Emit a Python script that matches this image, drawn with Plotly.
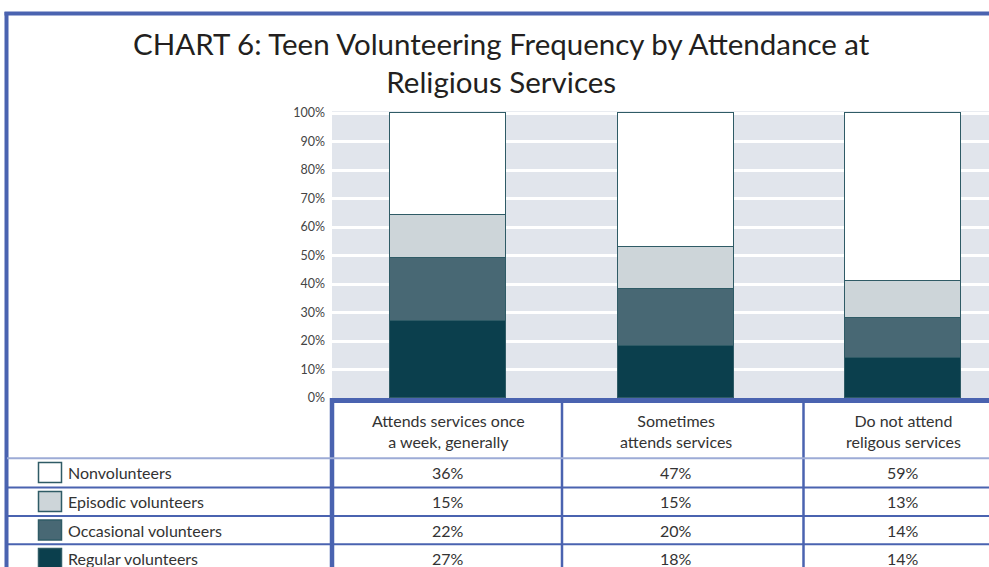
import plotly.graph_objects as go

# ---------------- data ----------------
categories = ["Attends services once<br>a week, generally",
              "Sometimes<br>attends services",
              "Do not attend<br>religous services"]
series_names = ["Regular volunteers", "Occasional volunteers",
                "Episodic volunteers", "Nonvolunteers"]
regular = [27, 18, 14]
occasional = [22, 20, 14]
episodic = [15, 15, 13]
nonvolunteers = [36, 47, 59]
series_values = [regular, occasional, episodic, nonvolunteers]
series_colors = ["#0b3f4d", "#486874", "#cdd5d9", "#ffffff"]
y_ticks = [0, 10, 20, 30, 40, 50, 60, 70, 80, 90, 100]
y_tick_labels = [f"{v}%" for v in y_ticks]
title_text = "CHART 6: Teen Volunteering Frequency by Attendance at<br>Religious Services"

# ---------------- layout helpers ----------------
W, H = 989, 567
BLUE = "#4a63b0"
LIGHTBLUE = "#9dabd6"
OUTLINE = "#2f5b66"
FONT = "Lato"
Y_TOP = 100.6          # small headroom so the top bar outline is not clipped
PX_PER_UNIT = (398 - 113) / 100


def px(x):
    return x / W


def py(y):
    return 1 - y / H


fig = go.Figure()
for name, vals, col in zip(series_names, series_values, series_colors):
    fig.add_trace(go.Bar(
        x=categories, y=vals, name=name,
        marker=dict(color=col, line=dict(color=OUTLINE, width=1.3)),
        width=0.51, showlegend=False, hoverinfo="name+y"))

shapes = []
annotations = []

# outer border (top + left)
shapes.append(dict(type="line", xref="paper", yref="paper",
                   x0=px(4.5), x1=1, y0=py(13.5), y1=py(13.5),
                   line=dict(color=BLUE, width=4)))
shapes.append(dict(type="line", xref="paper", yref="paper",
                   x0=px(6.5), x1=px(6.5), y0=py(12), y1=0,
                   line=dict(color=BLUE, width=4)))
# y axis line continued through table
shapes.append(dict(type="line", xref="paper", yref="paper",
                   x0=px(332), x1=px(332), y0=py(398), y1=0,
                   line=dict(color=BLUE, width=4.5)))
# column dividers in table
for xx in [562, 803.5]:
    shapes.append(dict(type="line", xref="paper", yref="paper",
                       x0=px(xx), x1=px(xx), y0=py(401), y1=0,
                       line=dict(color=BLUE, width=2.5)))
# header bottom line
shapes.append(dict(type="line", xref="paper", yref="paper",
                   x0=px(7), x1=1, y0=py(458.3), y1=py(458.3),
                   line=dict(color=LIGHTBLUE, width=2)))
# row lines
for yy in [487.5, 516, 544.3]:
    shapes.append(dict(type="line", xref="paper", yref="paper",
                       x0=px(7), x1=1, y0=py(yy), y1=py(yy),
                       line=dict(color=BLUE, width=2)))

# header texts
for c in categories:
    annotations.append(dict(x=c, xref="x", y=py(431), yref="paper",
                            text=c, showarrow=False, xanchor="center",
                            yanchor="middle",
                            font=dict(family=FONT, size=16, color="#333333")))

# table rows (top to bottom: reverse of stacking order)
row_centers = [472.5, 501.5, 530, 558.5]
order = list(range(len(series_names)))[::-1]
for rc, si in zip(row_centers, order):
    # swatch
    shapes.append(dict(type="rect", xref="paper", yref="paper",
                       x0=px(38.5), x1=px(61.5), y0=py(rc - 10), y1=py(rc + 10),
                       fillcolor=series_colors[si],
                       line=dict(color=OUTLINE, width=1.5)))
    annotations.append(dict(x=px(66), xref="paper", y=py(rc), yref="paper",
                            text=series_names[si], showarrow=False,
                            xanchor="left", yanchor="middle",
                            font=dict(family=FONT, size=16, color="#333333")))
    for c, v in zip(categories, series_values[si]):
        annotations.append(dict(x=c, xref="x", y=py(rc), yref="paper",
                                text=f"{v}%", showarrow=False,
                                xanchor="center", yanchor="middle",
                                font=dict(family=FONT, size=16, color="#333333")))

# title
annotations.append(dict(x=px(502), xref="paper", y=py(24), yref="paper",
                        text=title_text, showarrow=False, xanchor="center",
                        yanchor="top", align="center",
                        font=dict(family=FONT, size=29.5, color="#231f20")))

fig.update_layout(
    width=W, height=H,
    autosize=False,
    margin=dict(l=0, r=0, t=0, b=0, pad=0, autoexpand=False),
    paper_bgcolor="white",
    plot_bgcolor="#e1e5ec",
    barmode="stack",
    bargap=0,
    shapes=shapes,
    annotations=annotations,
    xaxis=dict(domain=[px(332), 1], range=[-0.512, 2.376],
               showticklabels=False, ticks="", showgrid=False,
               showline=True, linecolor=BLUE, linewidth=4.5,
               zeroline=False, fixedrange=True, automargin=False),
    yaxis=dict(domain=[py(398), py(113 - (Y_TOP - 100) * PX_PER_UNIT)],
               range=[0, Y_TOP],
               tickvals=y_ticks, ticktext=y_tick_labels,
               tickfont=dict(family=FONT, size=12.5, color="#444444"),
               showgrid=True, gridcolor="white", gridwidth=3,
               showline=False, zeroline=False, ticks="",
               ticklabelstandoff=6, fixedrange=True, automargin=False),
)

fig.write_html(
    "out.html",
    config={"displayModeBar": False},
    post_script="document.body.style.margin='0';document.body.style.overflow='hidden';",
)
